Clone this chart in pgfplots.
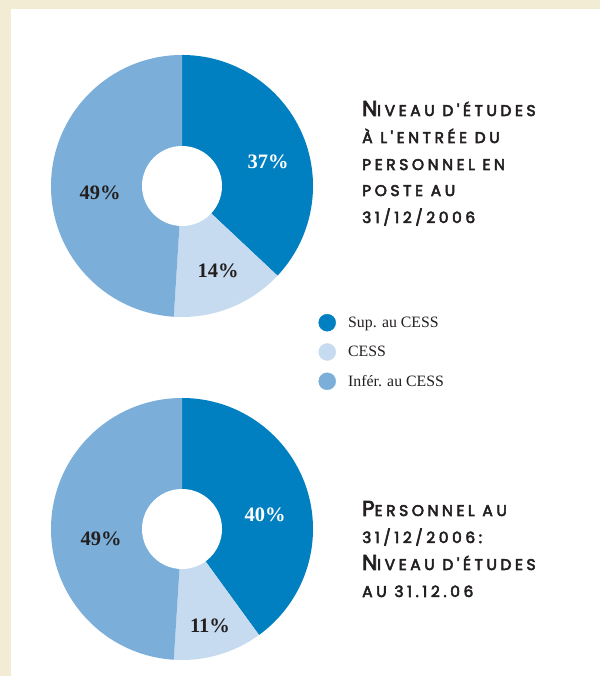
\documentclass[border=0pt]{standalone}
\usepackage{pgfplots}
\pgfplotsset{compat=1.18}
\usepackage{pgfplotstable}
\usepackage{fontspec}
\setmainfont{Liberation Serif}
\newfontfamily\titlefont[LetterSpace=23, FakeBold=3.5]{Poppins}
\definecolor{supc}{HTML}{0080C1}
\definecolor{cessc}{HTML}{C6DBEF}
\definecolor{infc}{HTML}{7BAFD9}
\definecolor{cream}{HTML}{F2ECD4}
\definecolor{txt}{HTML}{231F20}
\newcommand{\bigC}[1]{{\fontsize{21.5}{23}\selectfont #1}}
\newcommand{\smallC}[1]{{\fontsize{15.5}{17}\selectfont #1}}

% values in percent: Sup. au CESS, CESS, Infer. au CESS
\pgfplotstableread{
group sup cess inf
entree 37 14 49
actuel 40 11 49
}\piedata

\newcommand{\donut}[5]{% cx, cy, a, b, c
  \fill[supc] (axis cs:#1,#2) -- ++(90:131pt) arc[start angle=90, end angle={90-3.6*#3}, radius=131pt] -- cycle;
  \fill[cessc] (axis cs:#1,#2) -- ++({90-3.6*#3}:131pt) arc[start angle={90-3.6*#3}, end angle={90-3.6*(#3+#4)}, radius=131pt] -- cycle;
  \fill[infc] (axis cs:#1,#2) -- ++({90-3.6*(#3+#4)}:131pt) arc[start angle={90-3.6*(#3+#4)}, end angle={90-3.6*(#3+#4+#5)}, radius=131pt] -- cycle;
  \fill[white] (axis cs:#1,#2) circle (40pt);
}

\begin{document}
\begin{tikzpicture}
\begin{axis}[
  scale only axis, width=600pt, height=676pt,
  xmin=0, xmax=600, ymin=0, ymax=676,
  hide axis, clip=false,
  legend cell align=left,
  legend style={draw=none, fill=none, at={(axis cs:318.5,362)}, anchor=north west,
    font=\fontsize{15.8}{17}\selectfont\color{txt}, inner sep=0pt,
    nodes={inner sep=0pt}, row sep=12.3pt, column sep=0pt,
    /tikz/every odd column/.append style={column sep=12.5pt}},
]
\fill[cream] (axis cs:0,0) rectangle (axis cs:600,676);
\fill[white] (axis cs:11,0) rectangle (axis cs:600,667);

\pgfplotstablegetelem{0}{sup}\of\piedata \let\sA\pgfplotsretval
\pgfplotstablegetelem{0}{cess}\of\piedata \let\cA\pgfplotsretval
\pgfplotstablegetelem{0}{inf}\of\piedata \let\iA\pgfplotsretval
\pgfplotstablegetelem{1}{sup}\of\piedata \let\sB\pgfplotsretval
\pgfplotstablegetelem{1}{cess}\of\piedata \let\cB\pgfplotsretval
\pgfplotstablegetelem{1}{inf}\of\piedata \let\iB\pgfplotsretval

\donut{182}{490}{\sA}{\cA}{\iA}
\donut{182}{147}{\sB}{\cB}{\iB}

\begin{scope}[font=\fontsize{20.5}{22}\selectfont\bfseries]
\node[white] at (axis cs:268,514) {\sA\%};
\node[txt] at (axis cs:218,405) {\cA\%};
\node[txt] at (axis cs:100,483) {\iA\%};
\node[white] at (axis cs:265,161) {\sB\%};
\node[txt] at (axis cs:210,50) {\cB\%};
\node[txt] at (axis cs:101,137) {\iB\%};
\end{scope}

\begin{scope}[every node/.style={anchor=base west, inner sep=0pt, text=txt, font=\titlefont}]
\node at (axis cs:362,560) {\bigC{N}\smallC{IVEAU D'ÉTUDES}};
\node at (axis cs:362,533) {\smallC{À L'ENTRÉE DU}};
\node at (axis cs:362,506) {\smallC{PERSONNEL EN}};
\node at (axis cs:362,480) {\smallC{POSTE AU}};
\node at (axis cs:362,453) {\smallC{31/12/2006}};
\node at (axis cs:362,160) {\bigC{P}\smallC{ERSONNEL AU}};
\node at (axis cs:362,133) {\smallC{31/12/2006:}};
\node at (axis cs:362,106) {\bigC{N}\smallC{IVEAU D'ÉTUDES}};
\node at (axis cs:362,79) {\smallC{AU 31.12.06}};
\end{scope}

\addlegendimage{only marks, mark=*, mark size=8.5pt, color=supc, mark options={draw=supc, fill=supc}}
\addlegendentry{Sup. au CESS}
\addlegendimage{only marks, mark=*, mark size=8.5pt, color=cessc, mark options={draw=cessc, fill=cessc}}
\addlegendentry{CESS}
\addlegendimage{only marks, mark=*, mark size=8.5pt, color=infc, mark options={draw=infc, fill=infc}}
\addlegendentry{Infér. au CESS}
\end{axis}
\end{tikzpicture}
\end{document}
